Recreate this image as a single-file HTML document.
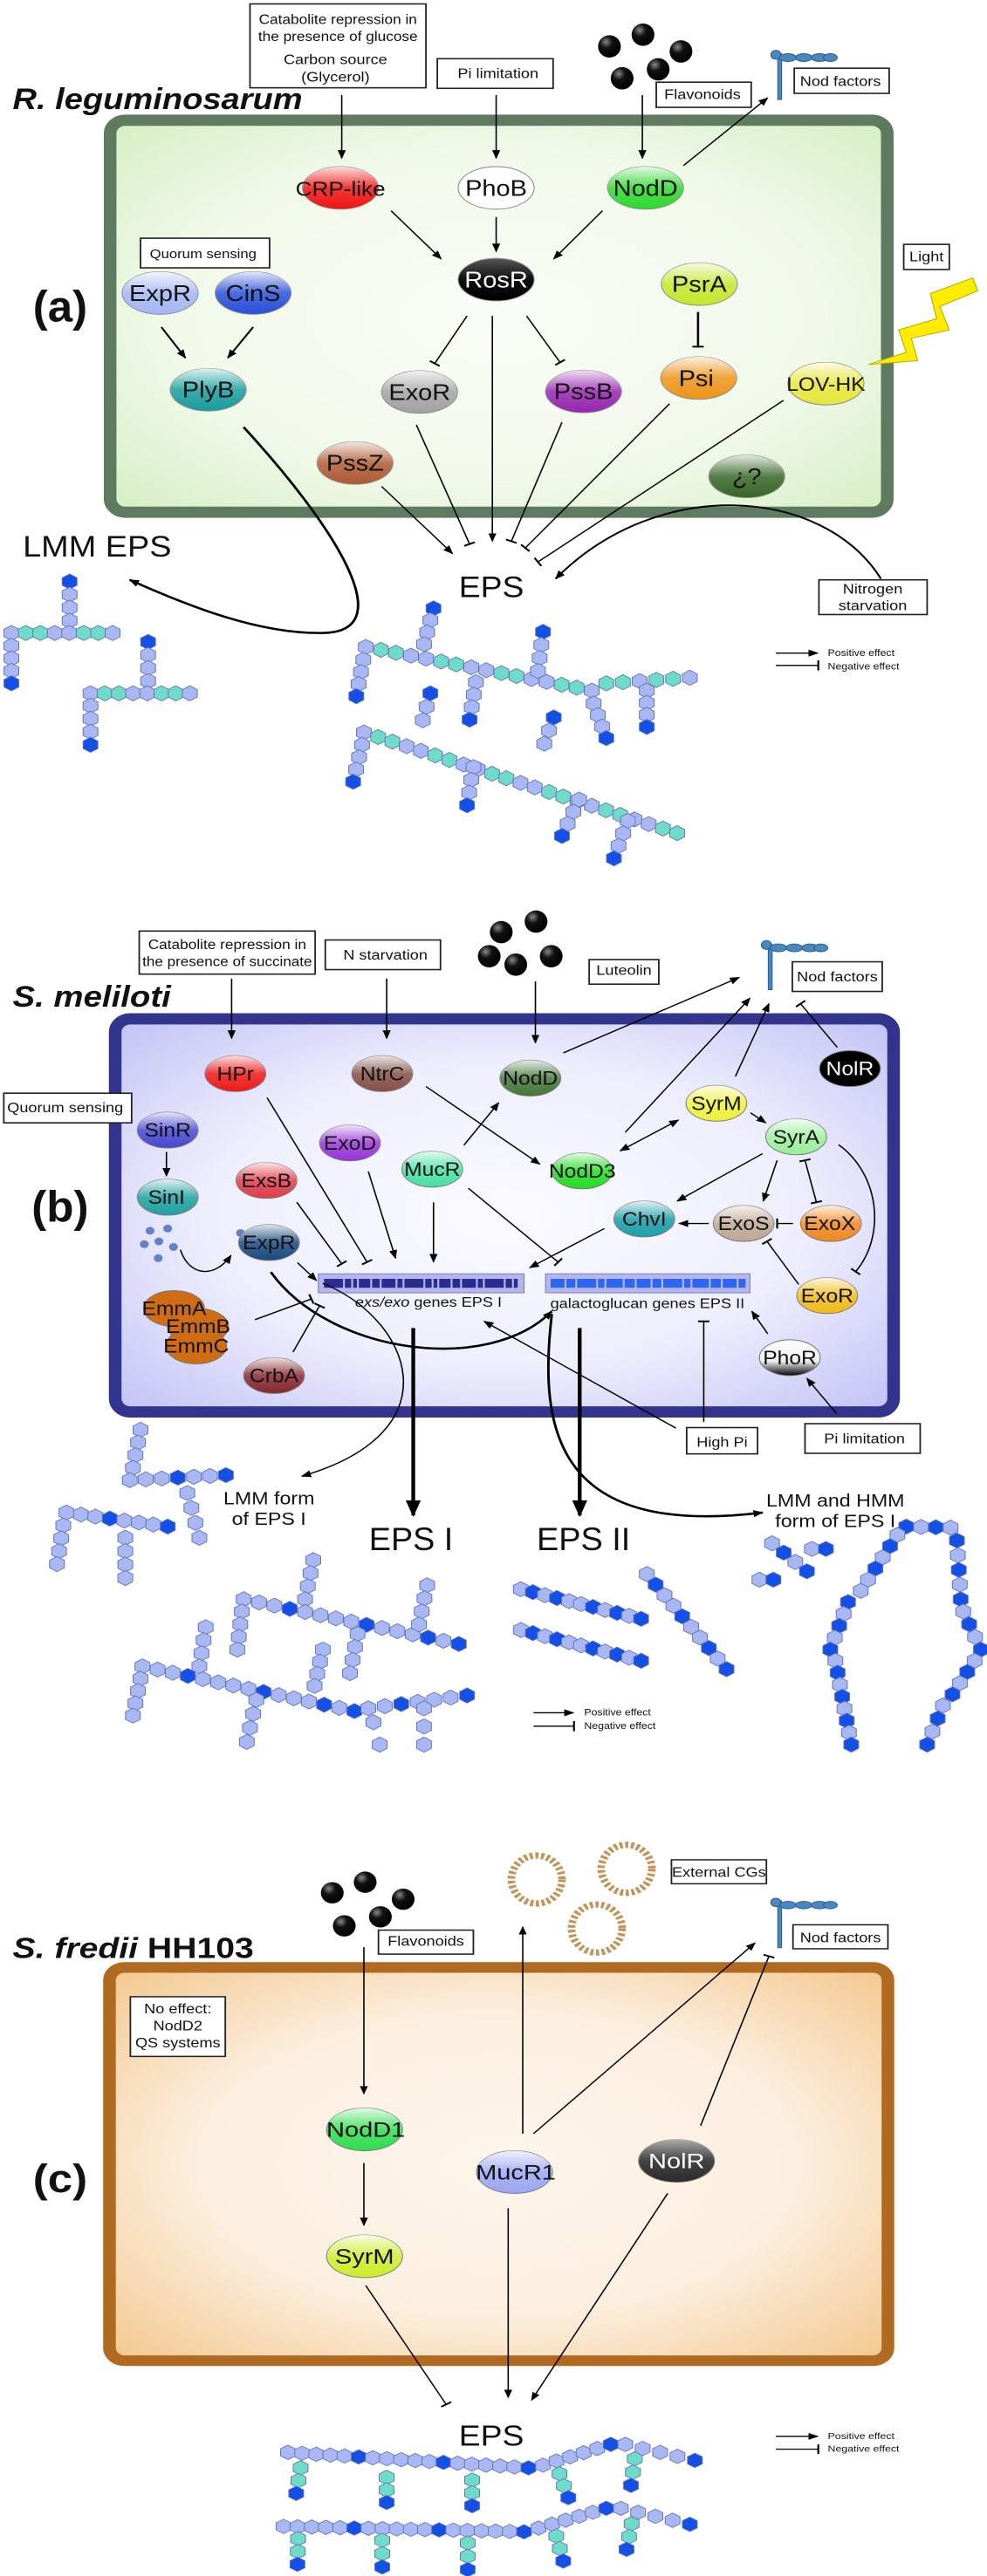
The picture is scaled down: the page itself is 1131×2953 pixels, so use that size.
<!DOCTYPE html>
<html><head><meta charset="utf-8"><style>
html,body{margin:0;padding:0;background:#fff;width:1131px;height:2953px;overflow:hidden}
svg{display:block}
text{font-family:"Liberation Sans",sans-serif;fill:#111}
</style></head><body>
<svg id="s" width="1131" height="2953" viewBox="0 0 1131 2953" xmlns="http://www.w3.org/2000/svg">
<defs>
<marker id="ar" viewBox="0 0 10 10" refX="9" refY="5" markerWidth="16" markerHeight="16" markerUnits="userSpaceOnUse" orient="auto"><path d="M0,1 L10,5 L0,9 Z" fill="#000"/></marker>
<marker id="arB" viewBox="0 0 10 10" refX="9" refY="5" markerWidth="30" markerHeight="30" markerUnits="userSpaceOnUse" orient="auto"><path d="M0,1 L10,5 L0,9 Z" fill="#000"/></marker>
<marker id="arS" viewBox="0 0 10 10" refX="1" refY="5" markerWidth="16" markerHeight="16" markerUnits="userSpaceOnUse" orient="auto"><path d="M10,1 L0,5 L10,9 Z" fill="#000"/></marker>
<marker id="inh" viewBox="-2 -10 4 20" refX="0" refY="0" markerWidth="4" markerHeight="20" markerUnits="userSpaceOnUse" orient="auto"><path d="M0,-9 L0,9" stroke="#000" stroke-width="3"/></marker>
<marker id="inhS" viewBox="-2 -10 4 20" refX="0" refY="0" markerWidth="4" markerHeight="20" markerUnits="userSpaceOnUse" orient="auto"><path d="M0,-9 L0,9" stroke="#000" stroke-width="3"/></marker>
<linearGradient id="shine" x1="0" y1="0" x2="0" y2="1"><stop offset="0" stop-color="#fff" stop-opacity="0.85"/><stop offset="0.5" stop-color="#fff" stop-opacity="0.15"/><stop offset="1" stop-color="#fff" stop-opacity="0"/></linearGradient>
<linearGradient id="phor" x1="0" y1="0" x2="0" y2="1"><stop offset="0" stop-color="#fff"/><stop offset="0.6" stop-color="#eee"/><stop offset="1" stop-color="#000"/></linearGradient>
<radialGradient id="gA" cx="0.5" cy="0.5" r="0.7"><stop offset="0" stop-color="#fafdf7"/><stop offset="0.6" stop-color="#f1f9ea"/><stop offset="1" stop-color="#d5efc3"/></radialGradient>
<radialGradient id="gB" cx="0.5" cy="0.5" r="0.7"><stop offset="0" stop-color="#fbfbff"/><stop offset="0.55" stop-color="#eeeefd"/><stop offset="1" stop-color="#c2c2f6"/></radialGradient>
<radialGradient id="gC" cx="0.5" cy="0.5" r="0.7"><stop offset="0" stop-color="#fdf5ec"/><stop offset="0.55" stop-color="#fcefdf"/><stop offset="1" stop-color="#f3c88f"/></radialGradient>
<radialGradient id="ball" cx="0.35" cy="0.3" r="0.7"><stop offset="0" stop-color="#888"/><stop offset="0.4" stop-color="#111"/><stop offset="1" stop-color="#000"/></radialGradient>
<symbol id="hx" viewBox="-11 -12 22 24" overflow="visible"><polygon points="0,-12 10.4,-6 10.4,6 0,12 -10.4,6 -10.4,-6" stroke="#6273b8" stroke-width="1.2"/></symbol>
</defs>

<!-- ================= PANEL A ================= -->
<g id="pa" transform="scale(0.7252,0.641)" stroke-linecap="butt">
<text x="20" y="195" font-size="54" font-weight="bold" font-style="italic" textLength="458" lengthAdjust="spacingAndGlyphs">R. leguminosarum</text>
<rect x="174" y="215" width="1228" height="701" rx="24" fill="url(#gA)" stroke="#5e7b62" stroke-width="20"/>
<text x="52" y="575" font-size="78" font-weight="bold" textLength="86" lengthAdjust="spacingAndGlyphs">(a)</text>
<g fill="#fff" stroke="#222" stroke-width="2.5">
<rect x="395" y="7" width="278" height="150"/><rect x="691" y="105" width="183" height="53"/>
<rect x="1037" y="147" width="150" height="45"/><rect x="1255" y="122" width="150" height="45"/>
<rect x="222" y="426" width="204" height="53"/><rect x="1428" y="437" width="72" height="45"/>
<rect x="1294" y="1037" width="171" height="62"/></g>
<g font-size="25" text-anchor="middle">
<text x="534" y="43" textLength="250" lengthAdjust="spacingAndGlyphs">Catabolite repression in</text>
<text x="534" y="73" textLength="252" lengthAdjust="spacingAndGlyphs">the presence of glucose</text>
<text x="530" y="115">Carbon source</text><text x="530" y="146">(Glycerol)</text>
<text x="787" y="140">Pi limitation</text><text x="1110" y="177">Flavonoids</text>
<text x="1328" y="154">Nod factors</text><text x="321" y="462" font-size="23">Quorum sensing</text>
<text x="1464" y="467">Light</text><text x="1379" y="1062">Nitrogen</text><text x="1379" y="1091">starvation</text></g>
<g fill="url(#ball)"><ellipse cx="963" cy="83" rx="18" ry="20"/><ellipse cx="1016" cy="62" rx="18" ry="20"/><ellipse cx="1076" cy="92" rx="18" ry="20"/><ellipse cx="983" cy="140" rx="18" ry="20"/><ellipse cx="1040" cy="124" rx="18" ry="20"/></g>
<g fill="#4a86c0" stroke="#2d5f90" stroke-width="1.5"><rect x="1229" y="96" width="6" height="82"/><ellipse cx="1226" cy="98" rx="8" ry="8"/><ellipse cx="1245" cy="103" rx="13" ry="7"/><ellipse cx="1270" cy="103" rx="13" ry="7"/><ellipse cx="1295" cy="103" rx="13" ry="7"/><ellipse cx="1312" cy="103" rx="11" ry="7"/></g>
<polygon points="1372,652 1450,645 1440,605 1500,590 1485,548 1545,520 1537,497 1470,525 1480,570 1420,590 1432,630" fill="#ffec00" stroke="#b8a800" stroke-width="1.5"/>
<g stroke="#000" stroke-width="2.2" fill="none">
<line x1="540" y1="170" x2="540" y2="283" marker-end="url(#ar)"/>
<line x1="784" y1="170" x2="784" y2="283" marker-end="url(#ar)"/>
<line x1="1015" y1="170" x2="1015" y2="283" marker-end="url(#ar)"/>
<line x1="1080" y1="296" x2="1213" y2="175" marker-end="url(#ar)"/>
<line x1="618" y1="377" x2="697" y2="463" marker-end="url(#ar)"/>
<line x1="784" y1="388" x2="784" y2="450" marker-end="url(#ar)"/>
<line x1="952" y1="377" x2="875" y2="463" marker-end="url(#ar)"/>
<line x1="255" y1="585" x2="293" y2="640" stroke-width="3" marker-end="url(#ar)"/>
<line x1="400" y1="585" x2="360" y2="640" stroke-width="3" marker-end="url(#ar)"/>
<line x1="738" y1="565" x2="687" y2="650" marker-end="url(#inh)"/>
<line x1="778" y1="565" x2="778" y2="968" marker-end="url(#ar)"/>
<line x1="832" y1="565" x2="885" y2="648" marker-end="url(#inh)"/>
<line x1="1103" y1="558" x2="1103" y2="620" stroke-width="3.5" marker-end="url(#inh)"/>
<line x1="658" y1="760" x2="742" y2="973" marker-end="url(#inh)"/>
<line x1="888" y1="755" x2="808" y2="968" marker-end="url(#inh)"/>
<line x1="1058" y1="722" x2="830" y2="980" marker-end="url(#inh)"/>
<line x1="1238" y1="716" x2="850" y2="1005" marker-end="url(#inh)"/>
<line x1="603" y1="870" x2="715" y2="990" marker-end="url(#ar)"/>
<path d="M385,764 C520,930 640,1130 510,1132 C410,1134 300,1085 205,1037" stroke-width="4" marker-end="url(#ar)"/>
<path d="M1392,1035 C1300,870 1040,850 878,1035" stroke-width="3" marker-end="url(#ar)"/>
<line x1="1226" y1="1168" x2="1292" y2="1168" marker-end="url(#ar)"/>
<line x1="1226" y1="1190" x2="1293" y2="1190" marker-end="url(#inh)"/>
</g>
<g id="nodesA" stroke="#888" stroke-width="1.5">
<ellipse cx="538" cy="336" rx="60" ry="38" fill="#f01414"/><ellipse cx="784" cy="336" rx="60" ry="38" fill="#fff"/>
<ellipse cx="1020" cy="336" rx="60" ry="38" fill="#2fd82f"/><ellipse cx="784" cy="500" rx="60" ry="38" fill="#000"/>
<ellipse cx="253" cy="524" rx="60" ry="38" fill="#a4b6f4"/><ellipse cx="400" cy="524" rx="60" ry="38" fill="#2a50d8"/>
<ellipse cx="329" cy="697" rx="60" ry="38" fill="#1a9c9c"/><ellipse cx="663" cy="701" rx="60" ry="38" fill="#a2a2a2"/>
<ellipse cx="922" cy="700" rx="60" ry="38" fill="#9626b0"/><ellipse cx="1105" cy="508" rx="60" ry="38" fill="#c6e62c"/>
<ellipse cx="1104" cy="676" rx="60" ry="38" fill="#ec9418"/><ellipse cx="1305" cy="686" rx="60" ry="38" fill="#e6e63a"/>
<ellipse cx="561" cy="828" rx="60" ry="38" fill="#b05a34"/><ellipse cx="1180" cy="852" rx="60" ry="38" fill="#386628"/>
</g>
<g fill="url(#shine)" stroke="none">
<ellipse cx="538" cy="336" rx="60" ry="38"/><ellipse cx="1020" cy="336" rx="60" ry="38"/><ellipse cx="784" cy="500" rx="60" ry="38" opacity="0.4"/>
<ellipse cx="253" cy="524" rx="60" ry="38"/><ellipse cx="400" cy="524" rx="60" ry="38"/><ellipse cx="329" cy="697" rx="60" ry="38"/>
<ellipse cx="663" cy="701" rx="60" ry="38"/><ellipse cx="922" cy="700" rx="60" ry="38"/><ellipse cx="1105" cy="508" rx="60" ry="38"/>
<ellipse cx="1104" cy="676" rx="60" ry="38"/><ellipse cx="1305" cy="686" rx="60" ry="38"/><ellipse cx="561" cy="828" rx="60" ry="38"/><ellipse cx="1180" cy="852" rx="60" ry="38"/>
</g>
<g font-size="40" text-anchor="middle">
<text x="538" y="350" font-size="36">CRP-like</text><text x="784" y="350">PhoB</text><text x="1020" y="350">NodD</text>
<text x="784" y="514" style="fill:#fff">RosR</text><text x="253" y="538">ExpR</text><text x="400" y="538">CinS</text>
<text x="329" y="711">PlyB</text><text x="663" y="715">ExoR</text><text x="922" y="714">PssB</text><text x="1105" y="522">PsrA</text>
<text x="1100" y="690">Psi</text><text x="1305" y="699" font-size="34">LOV-HK</text><text x="561" y="842">PssZ</text><text x="1180" y="866">¿?</text>
</g>
<text x="36" y="995" font-size="54" textLength="235" lengthAdjust="spacingAndGlyphs">LMM EPS</text>
<text x="725" y="1068" font-size="54" textLength="103" lengthAdjust="spacingAndGlyphs">EPS</text>
<text x="1308" y="1173" font-size="17">Positive effect</text><text x="1308" y="1197" font-size="17">Negative effect</text>
<g id="chA"></g>
</g>

<!-- ================= PANEL B ================= -->
<g id="pb" transform="translate(0,1000) scale(0.7252,0.641)">
<text x="20" y="240" font-size="54" font-weight="bold" font-style="italic" textLength="250" lengthAdjust="spacingAndGlyphs">S. meliloti</text>
<rect x="182" y="262" width="1230" height="703" rx="24" fill="url(#gB)" stroke="#33348e" stroke-width="20"/>
<text x="50" y="625" font-size="78" font-weight="bold" textLength="90" lengthAdjust="spacingAndGlyphs">(b)</text>
<g fill="#fff" stroke="#222" stroke-width="2.5">
<rect x="220" y="105" width="278" height="77"/><rect x="514" y="121" width="182" height="53"/>
<rect x="931" y="156" width="110" height="44"/><rect x="1252" y="160" width="142" height="53"/>
<rect x="6" y="395" width="202" height="53"/><rect x="1085" y="993" width="112" height="47"/>
<rect x="1272" y="986" width="182" height="53"/></g>
<g font-size="25" text-anchor="middle">
<text x="359" y="137" textLength="250" lengthAdjust="spacingAndGlyphs">Catabolite repression in</text>
<text x="359" y="168" textLength="268" lengthAdjust="spacingAndGlyphs">the presence of succinate</text>
<text x="609" y="156">N starvation</text><text x="986" y="183">Luteolin</text><text x="1323" y="195">Nod factors</text>
<text x="103" y="429">Quorum sensing</text><text x="1141" y="1027">High Pi</text><text x="1366" y="1021">Pi limitation</text></g>
<g fill="url(#ball)"><ellipse cx="792" cy="107" rx="18" ry="20"/><ellipse cx="847" cy="88" rx="18" ry="20"/><ellipse cx="773" cy="150" rx="18" ry="20"/><ellipse cx="815" cy="165" rx="18" ry="20"/><ellipse cx="871" cy="150" rx="18" ry="20"/></g>
<g fill="#4a86c0" stroke="#2d5f90" stroke-width="1.5"><rect x="1214" y="128" width="6" height="82"/><ellipse cx="1211" cy="130" rx="8" ry="8"/><ellipse cx="1230" cy="135" rx="13" ry="7"/><ellipse cx="1255" cy="135" rx="13" ry="7"/><ellipse cx="1280" cy="135" rx="13" ry="7"/><ellipse cx="1297" cy="135" rx="11" ry="7"/></g>
<rect x="503" y="718" width="325" height="34" fill="#b4b6ee" stroke="#7a7ac0" stroke-width="1.5"/>
<line x1="512" y1="735" x2="818" y2="735" stroke="#2c2c90" stroke-width="16" stroke-dasharray="30,3,10,3,6,3,18,3,12,3,22,3,8,3"/>
<rect x="862" y="718" width="323" height="34" fill="#b4b6ee" stroke="#7a7ac0" stroke-width="1.5"/>
<line x1="870" y1="735" x2="1178" y2="735" stroke="#2f66f0" stroke-width="16" stroke-dasharray="22,3,14,3,30,3,10,3,26,3,16,3"/>
<text x="677" y="777" font-size="25" text-anchor="middle"><tspan font-style="italic">exs/exo</tspan> genes EPS I</text>
<text x="1023" y="779" font-size="25" text-anchor="middle">galactoglucan genes EPS II</text>
<g fill="#6680c8"><circle cx="237" cy="641" r="7"/><circle cx="265" cy="637" r="7"/><circle cx="228" cy="665" r="7"/><circle cx="251" cy="660" r="7"/><circle cx="274" cy="670" r="7"/><circle cx="250" cy="690" r="7"/><circle cx="380" cy="645" r="7"/></g>
<g stroke="#000" stroke-width="2.2" fill="none">
<line x1="366" y1="190" x2="366" y2="297" marker-end="url(#ar)"/>
<line x1="611" y1="190" x2="611" y2="297" marker-end="url(#ar)"/>
<line x1="846" y1="195" x2="846" y2="305" marker-end="url(#ar)"/>
<line x1="890" y1="323" x2="1168" y2="188" marker-end="url(#ar)"/>
<line x1="1323" y1="313" x2="1265" y2="235" marker-end="url(#inh)"/>
<line x1="988" y1="465" x2="1185" y2="225" marker-end="url(#ar)"/>
<line x1="1162" y1="365" x2="1215" y2="235" marker-end="url(#ar)"/>
<line x1="422" y1="403" x2="580" y2="697" marker-end="url(#inh)"/>
<line x1="673" y1="383" x2="853" y2="522" marker-end="url(#ar)"/>
<line x1="582" y1="535" x2="625" y2="690" marker-end="url(#ar)"/>
<line x1="469" y1="590" x2="540" y2="700" marker-end="url(#inh)"/>
<line x1="685" y1="590" x2="685" y2="697" marker-end="url(#ar)"/>
<line x1="740" y1="565" x2="882" y2="697" marker-end="url(#inh)"/>
<line x1="733" y1="488" x2="788" y2="412" marker-end="url(#ar)"/>
<line x1="980" y1="498" x2="1072" y2="443" marker-start="url(#arS)" marker-end="url(#ar)"/>
<line x1="1186" y1="430" x2="1210" y2="448" marker-end="url(#ar)"/>
<line x1="1205" y1="503" x2="1070" y2="588" marker-end="url(#ar)"/>
<line x1="1228" y1="515" x2="1206" y2="588" marker-end="url(#ar)"/>
<line x1="1272" y1="515" x2="1290" y2="590" marker-start="url(#inhS)" marker-end="url(#inh)"/>
<path d="M1325,487 C1390,540 1400,650 1352,714" marker-end="url(#inh)"/>
<line x1="1120" y1="628" x2="1073" y2="628" marker-end="url(#ar)"/>
<line x1="1253" y1="628" x2="1228" y2="628" marker-end="url(#inh)"/>
<line x1="1262" y1="737" x2="1212" y2="660" marker-end="url(#inh)"/>
<line x1="955" y1="637" x2="837" y2="707" marker-end="url(#ar)"/>
<line x1="470" y1="698" x2="500" y2="730" marker-end="url(#ar)"/>
<path d="M428,715 C520,860 770,900 872,785" stroke-width="4" marker-end="url(#ar)"/>
<line x1="263" y1="500" x2="263" y2="543" marker-end="url(#ar)"/>
<path d="M285,675 C300,725 340,725 365,685" marker-end="url(#ar)"/>
<line x1="403" y1="800" x2="492" y2="763" marker-end="url(#inh)"/>
<line x1="463" y1="858" x2="505" y2="775" marker-end="url(#inh)"/>
<line x1="1068" y1="994" x2="765" y2="803" marker-end="url(#ar)"/>
<line x1="1112" y1="983" x2="1112" y2="803" marker-end="url(#inh)"/>
<line x1="1213" y1="825" x2="1188" y2="785" marker-end="url(#ar)"/>
<line x1="1322" y1="968" x2="1275" y2="905" marker-end="url(#ar)"/>
<line x1="653" y1="815" x2="653" y2="1150" stroke-width="6" marker-end="url(#arB)"/>
<line x1="916" y1="815" x2="916" y2="1150" stroke-width="6" marker-end="url(#arB)"/>
<path d="M510,735 C650,800 720,1000 477,1080" marker-end="url(#ar)"/>
<path d="M872,790 C850,1000 880,1190 1205,1145" stroke-width="4" marker-end="url(#ar)"/>
<line x1="843" y1="1503" x2="906" y2="1503" marker-end="url(#ar)"/>
<line x1="843" y1="1527" x2="907" y2="1527" marker-end="url(#inh)"/>
</g>
<g stroke="#777" stroke-width="1.5">
<ellipse cx="372" cy="360" rx="48" ry="32" fill="#f01818"/><ellipse cx="604" cy="360" rx="48" ry="32" fill="#845046"/>
<ellipse cx="838" cy="368" rx="48" ry="32" fill="#44763a"/><ellipse cx="1343" cy="351" rx="48" ry="32" fill="#000"/>
<ellipse cx="265" cy="461" rx="48" ry="32" fill="#4848d0"/><ellipse cx="265" cy="581" rx="48" ry="32" fill="#1ea0a0"/>
<ellipse cx="553" cy="484" rx="48" ry="32" fill="#9836d8"/><ellipse cx="421" cy="551" rx="48" ry="32" fill="#e03c4c"/>
<ellipse cx="683" cy="531" rx="48" ry="32" fill="#48e0a6"/><ellipse cx="920" cy="534" rx="48" ry="32" fill="#24dc24"/>
<ellipse cx="1132" cy="413" rx="48" ry="32" fill="#eef03c"/><ellipse cx="1258" cy="473" rx="48" ry="32" fill="#9cee9c"/>
<ellipse cx="1018" cy="620" rx="48" ry="32" fill="#1c9ea8"/><ellipse cx="1175" cy="628" rx="48" ry="32" fill="#bea694"/>
<ellipse cx="1313" cy="628" rx="48" ry="32" fill="#f08820"/><ellipse cx="425" cy="662" rx="48" ry="32" fill="#1a4a80"/>
<ellipse cx="1307" cy="757" rx="48" ry="32" fill="#f0bc18"/><ellipse cx="1248" cy="868" rx="48" ry="32" fill="url(#phor)"/>
<ellipse cx="275" cy="780" rx="48" ry="32" fill="#d06c14"/><ellipse cx="313" cy="812" rx="48" ry="32" fill="#d06c14"/>
<ellipse cx="310" cy="847" rx="48" ry="32" fill="#d06c14"/><ellipse cx="433" cy="900" rx="48" ry="32" fill="#862830"/>
</g>
<g fill="url(#shine)">
<ellipse cx="372" cy="360" rx="48" ry="32"/><ellipse cx="604" cy="360" rx="48" ry="32"/><ellipse cx="838" cy="368" rx="48" ry="32"/>
<ellipse cx="265" cy="461" rx="48" ry="32"/><ellipse cx="265" cy="581" rx="48" ry="32"/><ellipse cx="553" cy="484" rx="48" ry="32"/>
<ellipse cx="421" cy="551" rx="48" ry="32"/><ellipse cx="683" cy="531" rx="48" ry="32"/><ellipse cx="920" cy="534" rx="48" ry="32"/>
<ellipse cx="1132" cy="413" rx="48" ry="32"/><ellipse cx="1258" cy="473" rx="48" ry="32"/><ellipse cx="1018" cy="620" rx="48" ry="32"/>
<ellipse cx="1175" cy="628" rx="48" ry="32"/><ellipse cx="1313" cy="628" rx="48" ry="32"/><ellipse cx="425" cy="662" rx="48" ry="32"/>
<ellipse cx="1307" cy="757" rx="48" ry="32"/><ellipse cx="433" cy="900" rx="48" ry="32"/>
</g>
<g font-size="34" text-anchor="middle">
<text x="372" y="372">HPr</text><text x="604" y="372">NtrC</text><text x="838" y="380">NodD</text>
<text x="1343" y="363" style="fill:#fff">NolR</text><text x="265" y="473">SinR</text><text x="263" y="593">SinI</text>
<text x="553" y="496">ExoD</text><text x="421" y="563">ExsB</text><text x="683" y="543">MucR</text><text x="920" y="546">NodD3</text>
<text x="1132" y="425">SyrM</text><text x="1258" y="485">SyrA</text><text x="1018" y="632">ChvI</text><text x="1175" y="640">ExoS</text>
<text x="1311" y="640">ExoX</text><text x="425" y="674">ExpR</text><text x="1307" y="769">ExoR</text><text x="1248" y="880">PhoR</text>
<text x="275" y="792">EmmA</text><text x="313" y="824">EmmB</text><text x="310" y="859">EmmC</text><text x="433" y="912">CrbA</text>
</g>
<g font-size="32" text-anchor="middle"><text x="425" y="1130">LMM form</text><text x="425" y="1167">of EPS I</text>
<text x="1320" y="1134">LMM and HMM</text><text x="1320" y="1171">form of EPS I</text></g>
<text x="583" y="1212" font-size="58" textLength="133" lengthAdjust="spacingAndGlyphs">EPS I</text>
<text x="848" y="1212" font-size="58" textLength="148" lengthAdjust="spacingAndGlyphs">EPS II</text>
<text x="923" y="1508" font-size="17">Positive effect</text><text x="923" y="1532" font-size="17">Negative effect</text>
<g id="chB"></g>
</g>

<!-- ================= PANEL C ================= -->
<g id="pc" transform="translate(0,2000) scale(0.7252,0.6109)">
<text x="20" y="400" font-size="54" font-weight="bold"><tspan font-style="italic">S. fredii</tspan> HH103</text>
<rect x="173" y="418" width="1230" height="738" rx="24" fill="url(#gC)" stroke="#b06a22" stroke-width="20"/>
<text x="52" y="840" font-size="74" font-weight="bold" textLength="86" lengthAdjust="spacingAndGlyphs">(c)</text>
<g fill="#fff" stroke="#222" stroke-width="2.5">
<rect x="206" y="473" width="150" height="112"/><rect x="598" y="348" width="150" height="45"/>
<rect x="1061" y="216" width="150" height="45"/><rect x="1253" y="338" width="150" height="45"/></g>
<g font-size="25" text-anchor="middle"><text x="281" y="504">No effect:</text><text x="281" y="536">NodD2</text><text x="281" y="568">QS systems</text>
<text x="673" y="377">Flavonoids</text><text x="1136" y="248">External CGs</text><text x="1328" y="371">Nod factors</text></g>
<g fill="url(#ball)"><ellipse cx="525" cy="278" rx="18" ry="20"/><ellipse cx="577" cy="258" rx="18" ry="20"/><ellipse cx="637" cy="290" rx="18" ry="20"/><ellipse cx="544" cy="340" rx="18" ry="20"/><ellipse cx="601" cy="323" rx="18" ry="20"/></g>
<g fill="none" stroke="#c0955a" stroke-width="12" stroke-dasharray="5,4">
<ellipse cx="848" cy="253" rx="40" ry="45"/><ellipse cx="990" cy="233" rx="40" ry="45"/><ellipse cx="943" cy="345" rx="40" ry="45"/></g>
<g fill="#4a86c0" stroke="#2d5f90" stroke-width="1.5"><rect x="1229" y="293" width="6" height="88"/><ellipse cx="1226" cy="296" rx="8" ry="8"/><ellipse cx="1245" cy="301" rx="13" ry="7"/><ellipse cx="1270" cy="301" rx="13" ry="7"/><ellipse cx="1295" cy="301" rx="13" ry="7"/><ellipse cx="1312" cy="301" rx="11" ry="7"/></g>
<g stroke="#000" stroke-width="2.2" fill="none">
<line x1="575" y1="380" x2="575" y2="655" marker-end="url(#ar)"/>
<line x1="575" y1="785" x2="575" y2="902" marker-end="url(#ar)"/>
<line x1="826" y1="730" x2="826" y2="342" marker-end="url(#ar)"/>
<line x1="843" y1="730" x2="1193" y2="372" marker-end="url(#ar)"/>
<line x1="1107" y1="715" x2="1215" y2="397" marker-end="url(#inh)"/>
<line x1="578" y1="1015" x2="705" y2="1238" marker-end="url(#inh)"/>
<line x1="803" y1="870" x2="803" y2="1225" marker-end="url(#ar)"/>
<line x1="1055" y1="842" x2="840" y2="1230" marker-end="url(#ar)"/>
<line x1="1226" y1="1298" x2="1292" y2="1298" marker-end="url(#ar)"/>
<line x1="1226" y1="1322" x2="1293" y2="1322" marker-end="url(#inh)"/>
</g>
<g stroke="#777" stroke-width="1.5">
<ellipse cx="576" cy="722" rx="60" ry="40" fill="#30dc50"/><ellipse cx="576" cy="960" rx="60" ry="40" fill="#cdec2c"/>
<ellipse cx="813" cy="802" rx="60" ry="40" fill="#9ca6f0"/><ellipse cx="1069" cy="781" rx="60" ry="40" fill="#2c2c2c"/></g>
<g fill="url(#shine)"><ellipse cx="576" cy="722" rx="60" ry="40"/><ellipse cx="576" cy="960" rx="60" ry="40"/><ellipse cx="813" cy="802" rx="60" ry="40"/><ellipse cx="1069" cy="781" rx="60" ry="40" opacity="0.7"/></g>
<g font-size="40" text-anchor="middle"><text x="578" y="736">NodD1</text><text x="576" y="974">SyrM</text><text x="815" y="816">MucR1</text><text x="1069" y="795" style="fill:#fff">NolR</text></g>
<text x="725" y="1315" font-size="54" textLength="103" lengthAdjust="spacingAndGlyphs">EPS</text>
<text x="1308" y="1303" font-size="17">Positive effect</text><text x="1308" y="1327" font-size="17">Negative effect</text>
<g id="chC"></g>
</g>
</svg>
<script>
(function(){
var C={L:"#a9b8f2",T:"#6edcc8",D:"#1450e6"};
var NS="http://www.w3.org/2000/svg";
function seg(g,x1,y1,x2,y2,p){var n=p.length;for(var i=0;i<n;i++){var t=n==1?0:i/(n-1);var u=document.createElementNS(NS,"use");u.setAttribute("href","#hx");u.setAttribute("x",x1+(x2-x1)*t-12.5);u.setAttribute("y",y1+(y2-y1)*t-13.5);u.setAttribute("width",25);u.setAttribute("height",27);u.setAttribute("fill",C[p[i]]);g.appendChild(u);}}
function run(id,list){var g=document.getElementById(id);list.forEach(function(a){seg(g,a[0],a[1],a[2],a[3],a[4]);});}
run("chA",[
[110,1040,110,1110,"DLLL"],[18,1132,178,1132,"LTTLLTTL"],[18,1155,18,1222,"LLLD"],
[234,1148,234,1218,"DLLL"],[143,1240,300,1240,"LTTLLTTL"],[143,1262,143,1332,"LLLD"],
[685,1088,670,1152,"DLLL"],[578,1157,935,1235,"LTTLLTTLLTTLLTTL"],[574,1180,563,1245,"LLLD"],
[858,1130,850,1200,"DLLL"],[752,1220,742,1287,"LLLD"],[958,1222,1090,1212,"TTLTTL"],
[938,1258,958,1320,"LLLD"],[1022,1235,1022,1300,"LLLD"],
[680,1240,668,1288,"DLL"],[575,1310,1070,1490,"LTTLLTTLLTTLLTTLLTTLLTT"],[572,1332,558,1398,"LLLD"],
[875,1283,860,1330,"DLL"],[748,1372,738,1440,"LLLD"],[915,1430,888,1495,"LLLD"],[992,1468,970,1535,"LLLD"]
]);
run("chB",[
[222,997,210,1065,"LLLL"],[205,1087,357,1078,"LLLDLLD"],[296,1110,315,1190,"LLLL"],
[105,1145,265,1170,"LLLDLLLD"],[100,1168,90,1237,"LLLL"],[198,1190,198,1262,"LLLL"],
[495,1230,482,1300,"LLLL"],[385,1300,725,1380,"LLLDLLLLDLLLDLD"],[382,1322,375,1390,"LLLL"],
[675,1275,662,1345,"LLLL"],[565,1362,553,1432,"LLLL"],
[325,1350,315,1420,"LLLL"],[225,1420,560,1500,"LLLDLLLLDLLLDLD"],[582,1495,738,1472,"LLDLLLD"],
[222,1442,210,1508,"LLLL"],[510,1390,497,1455,"LLLL"],[405,1480,390,1555,"LLLL"],[590,1520,600,1560,"LL"],[670,1495,670,1560,"LLL"],
[823,1282,1013,1335,"LDLDLLDLDLD"],[823,1355,1013,1410,"LDLDLLDLDLD"],[1022,1255,1148,1425,"LDLLDLLDLD"],
[1220,1200,1275,1250,"LDLD"],[1283,1210,1305,1210,"LD"],[1200,1265,1222,1265,"LD"],
[1432,1170,1502,1172,"DLDL"],[1512,1195,1518,1300,"DLDLD"],[1522,1322,1550,1390,"LDLD"],[1540,1410,1505,1470,"LDLD"],[1490,1490,1465,1560,"LDLD"],
[1418,1185,1360,1285,"LDLDLL"],[1340,1305,1312,1390,"DLDLD"],[1320,1410,1345,1560,"LDLDLDLD"]
]);
run("chC",[
[455,1328,835,1357,"LLLLLDLLLLLDLLLLLD"],[858,1352,965,1313,"LLLLLD"],[988,1313,1098,1343,"LLLLD"],
[475,1357,468,1405,"TTD"],[611,1375,611,1422,"TTD"],[746,1380,746,1428,"TTD"],[884,1368,898,1413,"TTD"],[1003,1340,997,1390,"TTD"],
[448,1467,828,1477,"LLLLLDLLLLLDLLLLLD"],[851,1470,958,1433,"LLLLLD"],[981,1433,1090,1463,"LLLLD"],
[471,1490,470,1538,"TTD"],[604,1493,604,1543,"TTD"],[739,1498,739,1548,"TTD"],[879,1485,890,1532,"TTD"],[998,1462,990,1510,"TTD"]
]);
})();
</script>
</body></html>
